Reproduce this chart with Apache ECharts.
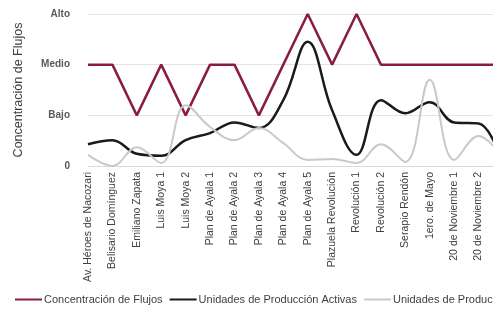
<!DOCTYPE html>
<html>
<head>
<meta charset="utf-8">
<script src="https://cdn.jsdelivr.net/npm/echarts@6/dist/echarts.min.js"></script>
<style>
	html, body { margin: 0; padding: 0; background: #fff; }
	#main { width: 493px; height: 313px; }
</style>
</head>
<body>
<div id="main"></div>
<script>
	// categorías (la última queda fuera del recorte)
	var categorias = ['Av. Héroes de Nacozari', 'Belisario Domínguez', 'Emiliano Zapata', 'Luis Moya 1', 'Luis Moya 2',
		'Plan de Ayala 1', 'Plan de Ayala 2', 'Plan de Ayala 3', 'Plan de Ayala 4', 'Plan de Ayala 5',
		'Plazuela Revolución', 'Revolución 1', 'Revolución 2', 'Serapio Rendón', '1ero. de Mayo',
		'20 de Noviembre 1', '20 de Noviembre 2', '20 de Noviembre 3']
	var nivelesY = ['0', 'Bajo', 'Medio', 'Alto']
	// 0 = 0, 1 = Bajo, 2 = Medio, 3 = Alto
	var concentracion = [2, 2, 1, 2, 1, 2, 2, 1, 2, 3, 2, 3, 2, 2, 2, 2, 2, 2]
	var activas = [0.43, 0.51, 0.24, 0.2, 0.51, 0.65, 0.86, 0.75, 1.3, 2.45, 1.1, 0.22, 1.3, 1.04, 1.26, 0.86, 0.84, 0]
	var inactivas = [0.22, 0, 0.37, 0.06, 1.2, 0.77, 0.51, 0.75, 0.45, 0.12, 0.14, 0.06, 0.43, 0.08, 1.7, 0.12, 0.59, 0.15]

	var chart = echarts.init(document.getElementById('main'))
	var fuente = 'Liberation Sans'
	var option = {
		animation: false,
		textStyle: { fontFamily: fuente },
		grid: {
			left: 88,
			right: -10,
			top: 14,
			bottom: 147,
			outerBoundsMode: 'none'
		},
		legend: {
			left: 10,
			bottom: 3,
			width: 900,
			itemWidth: 27,
			itemHeight: 2,
			itemGap: 7,
			icon: 'rect',
			textStyle: { fontSize: 11, color: '#404040', fontFamily: fuente, padding: [0, 0, 0, -3] },
			data: ['Concentración de Flujos', 'Unidades de Producción Activas', 'Unidades de Producción Inactivas']
		},
		xAxis: {
			type: 'category',
			data: categorias,
			boundaryGap: false,
			axisLine: { show: true, lineStyle: { color: '#d9d9d9' } },
			axisTick: { show: false },
			axisLabel: {
				rotate: 90,
				interval: 0,
				fontSize: 10.5,
				color: '#404040',
				margin: 6
			}
		},
		yAxis: {
			type: 'value',
			min: 0,
			max: 3,
			interval: 1,
			name: 'Concentración de Flujos',
			nameLocation: 'middle',
			nameGap: 63,
			nameTextStyle: { fontSize: 12.5, color: '#404040' },
			axisLabel: {
				fontSize: 10,
				fontWeight: 'bold',
				color: '#595959',
				margin: 18,
				formatter: function (v) { return nivelesY[v] }
			},
			splitLine: { lineStyle: { color: '#e3e3e3' } },
			axisLine: { show: false },
			axisTick: { show: false }
		},
		series: [{
			name: 'Concentración de Flujos',
			type: 'line',
			data: concentracion,
			symbol: 'none',
			itemStyle: { color: '#8a1c3c' },
			lineStyle: { width: 2.5, color: '#8a1c3c' }
		}, {
			name: 'Unidades de Producción Activas',
			type: 'line',
			data: activas,
			smooth: 0.4,
			symbol: 'none',
			itemStyle: { color: '#1a1a1a' },
			lineStyle: { width: 2.5, color: '#1a1a1a' }
		}, {
			name: 'Unidades de Producción Inactivas',
			type: 'line',
			data: inactivas,
			smooth: 0.4,
			symbol: 'none',
			itemStyle: { color: '#c9c9c9' },
			lineStyle: { width: 2, color: '#c9c9c9' }
		}]
	}
	chart.setOption(option)
</script>
</body>
</html>
